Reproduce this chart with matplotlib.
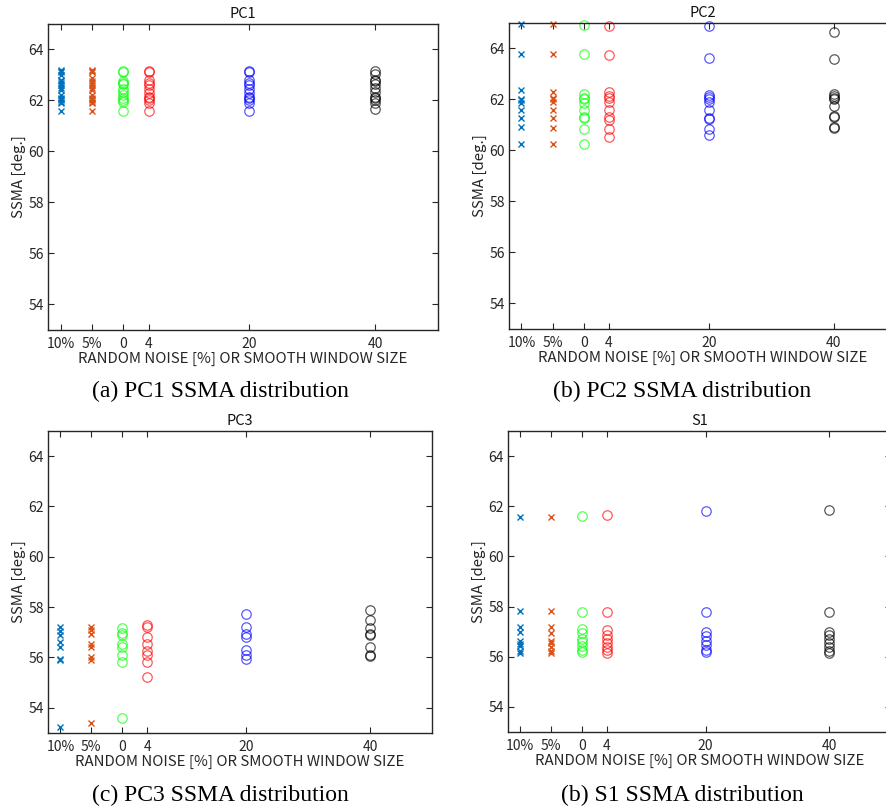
import matplotlib.pyplot as plt

plt.rcParams['font.family'] = ['Noto Sans CJK JP', 'DejaVu Sans']

# x positions: noise levels drawn at -10 / -5, smoothing windows at 0, 4, 20, 40
x_pos = [-10, -5, 0, 4, 20, 40]
x_labels = ['10%', '5%', '0', '4', '20', '40']
colors = ['#0072BD', '#D95319', '#00FF00', '#FF0000', '#0000FF', '#000000']
markers = ['x', 'x', 'o', 'o', 'o', 'o']

pc1 = [
    [63.2, 63.15, 63.1, 63.0, 62.8, 62.75, 62.7, 62.6, 62.5, 62.4, 62.2, 62.1, 62.05, 62.0, 61.95, 61.9, 61.6],
    [63.2, 63.15, 63.1, 62.9, 62.75, 62.7, 62.6, 62.5, 62.4, 62.2, 62.1, 62.05, 62.0, 61.95, 61.9, 61.6],
    [63.17, 63.1, 62.76, 62.7, 62.66, 62.46, 62.35, 62.2, 62.1, 62.0, 61.95, 61.6],
    [63.17, 63.1, 62.8, 62.7, 62.6, 62.45, 62.3, 62.15, 62.1, 62.0, 61.9, 61.6],
    [63.17, 63.1, 62.8, 62.7, 62.6, 62.45, 62.3, 62.15, 62.1, 62.0, 61.9, 61.6],
    [63.15, 63.05, 62.8, 62.75, 62.65, 62.5, 62.35, 62.15, 62.1, 62.0, 61.9, 61.65],
]
pc2 = [
    [64.96, 63.8, 62.37, 62.03, 61.97, 61.88, 61.6, 61.28, 60.92, 60.25],
    [64.96, 63.8, 62.3, 62.05, 62.0, 61.9, 61.6, 61.28, 60.87, 60.25],
    [64.93, 63.8, 62.23, 62.07, 62.0, 61.85, 61.59, 61.3, 61.27, 60.83, 60.25],
    [64.9, 63.76, 62.3, 62.13, 62.05, 61.9, 61.6, 61.32, 61.18, 60.83, 60.51],
    [64.88, 63.64, 62.17, 62.1, 62.0, 61.9, 61.59, 61.27, 61.22, 60.83, 60.59],
    [64.63, 63.57, 62.22, 62.13, 62.04, 62.0, 61.74, 61.35, 61.3, 60.92, 60.87],
]
pc3 = [
    [57.2, 57.05, 56.9, 56.6, 56.43, 55.96, 55.9, 53.22],
    [57.21, 57.08, 56.92, 56.55, 56.4, 56.03, 55.9, 53.4],
    [57.17, 56.99, 56.9, 56.53, 56.4, 56.1, 55.83, 53.58],
    [57.29, 57.21, 56.82, 56.53, 56.26, 56.1, 55.84, 55.23],
    [57.72, 57.21, 56.92, 56.82, 56.31, 56.1, 55.93],
    [57.89, 57.49, 57.19, 56.92, 56.88, 56.4, 56.1, 56.04],
]
s1 = [
    [61.56, 57.83, 57.17, 56.97, 56.64, 56.51, 56.41, 56.24, 56.14],
    [61.59, 57.81, 57.17, 56.93, 56.64, 56.53, 56.37, 56.24, 56.16],
    [61.61, 57.79, 57.1, 56.93, 56.7, 56.57, 56.41, 56.27, 56.17],
    [61.65, 57.78, 57.06, 56.88, 56.7, 56.53, 56.37, 56.27, 56.16],
    [61.81, 57.78, 56.97, 56.84, 56.64, 56.47, 56.28, 56.19],
    [61.85, 57.78, 56.97, 56.86, 56.7, 56.53, 56.37, 56.24, 56.16],
]

titles = ['PC1', 'PC2', 'PC3', 'S1']
captions = ['(a) PC1 SSMA distribution', '(b) PC2 SSMA distribution',
            '(c) PC3 SSMA distribution', '(b) S1 SSMA distribution']
datasets = [pc1, pc2, pc3, s1]

W, H = 887, 808
fig = plt.figure(figsize=(W / 100, H / 100), dpi=100)

# axes boxes in pixels: left, top, right, bottom
boxes = [(48, 24, 438, 330), (509, 23, 896, 329),
         (48, 431, 432, 733), (508, 431, 891, 732)]
caption_pos = [(220, 391), (682, 391), (220, 795), (682, 795)]

for box, data, title, cap, cp in zip(boxes, datasets, titles, captions, caption_pos):
    l, t, r, b = box
    ax = fig.add_axes([l / W, 1 - b / H, (r - l) / W, (b - t) / H])
    for xp, ys, c, m in zip(x_pos, data, colors, markers):
        if m == 'x':
            ax.plot([xp] * len(ys), ys, linestyle='none', marker='x', color=c,
                    markersize=4.2, markeredgewidth=1.0, clip_on=False)
        else:
            ax.plot([xp] * len(ys), ys, linestyle='none', marker='o',
                    markerfacecolor='none', markeredgecolor=c, alpha=0.65,
                    markersize=6.8, markeredgewidth=0.9, clip_on=False)
    ax.set_xlim(-12, 50)
    ax.set_ylim(53, 65)
    ax.set_xticks(x_pos)
    ax.set_xticklabels(x_labels)
    ax.set_yticks([54, 56, 58, 60, 62, 64])
    ax.tick_params(direction='in', top=True, right=True, length=4, width=0.8,
                   labelsize=10, colors='#262626', pad=5)
    ax.tick_params(axis='y', pad=3)
    for sp in ax.spines.values():
        sp.set_linewidth(1.0)
        sp.set_color('#262626')
    ax.set_title(title, fontsize=10.5, pad=4, color='#111111')
    ax.set_xlabel('RANDOM NOISE [%] OR SMOOTH WINDOW SIZE', fontsize=10.8,
                  labelpad=1, color='#262626')
    ax.set_ylabel('SSMA [deg.]', fontsize=10.8, labelpad=2, color='#262626')
    fig.text(cp[0] / W, 1 - cp[1] / H, cap,
             ha='center', va='center', fontsize=17, family='Liberation Serif')

fig.savefig('out.png', dpi=100)
